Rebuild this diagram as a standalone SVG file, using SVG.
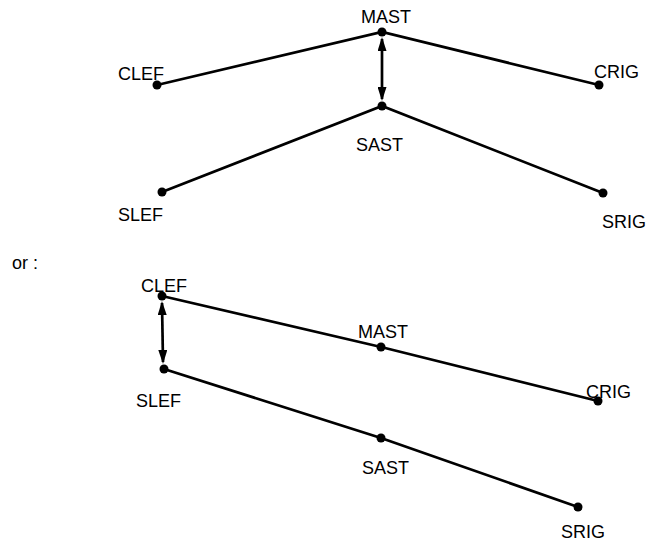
<svg xmlns="http://www.w3.org/2000/svg" width="651" height="545" viewBox="0 0 651 545">
  <style>
    text { font-family: "Liberation Sans", Arial, sans-serif; font-size: 18px; fill: #000; }
    .ln { stroke: #000; stroke-width: 2.7; fill: none; }
    .dot { fill: #000; }
  </style>
  <defs>
    <marker id="ah" viewBox="0 0 14 9" refX="12" refY="4.5" markerWidth="14" markerHeight="9" markerUnits="userSpaceOnUse" orient="auto-start-reverse">
      <path d="M0,0 L14,4.5 L0,9 Z" fill="#000"/>
    </marker>
  </defs>
  <rect width="651" height="545" fill="#fff"/>

  <g id="connectors">
    <polyline class="ln" points="157,85 382,32 599,85"/>
    <polyline class="ln" points="162,192 382,106 603,193"/>
    <line class="ln" x1="382" y1="39" x2="382" y2="99" marker-start="url(#ah)" marker-end="url(#ah)"/>
    <polyline class="ln" points="162,296 381,347 598,401"/>
    <polyline class="ln" points="164,369 381,438 578,507"/>
    <line class="ln" x1="162" y1="303" x2="163" y2="362" marker-start="url(#ah)" marker-end="url(#ah)"/>
  </g>

  <g id="top-mast"><circle class="dot" cx="382" cy="32" r="4.5"/><text x="361" y="23">MAST</text></g>
  <g id="top-clef"><circle class="dot" cx="157" cy="85" r="4.5"/><text x="118" y="80">CLEF</text></g>
  <g id="top-crig"><circle class="dot" cx="599" cy="85" r="4.5"/><text x="594" y="78">CRIG</text></g>
  <g id="top-sast"><circle class="dot" cx="382" cy="106" r="4.5"/><text x="356" y="151">SAST</text></g>
  <g id="top-slef"><circle class="dot" cx="162" cy="192" r="4.5"/><text x="118" y="221">SLEF</text></g>
  <g id="top-srig"><circle class="dot" cx="603" cy="193" r="4.5"/><text x="602" y="228">SRIG</text></g>

  <text id="or-label" x="12" y="269">or :</text>

  <g id="bot-clef"><circle class="dot" cx="162" cy="296" r="4.5"/><text x="141" y="292">CLEF</text></g>
  <g id="bot-mast"><circle class="dot" cx="381" cy="347" r="4.5"/><text x="358" y="338">MAST</text></g>
  <g id="bot-crig"><circle class="dot" cx="598" cy="401" r="4.5"/><text x="586" y="398">CRIG</text></g>
  <g id="bot-slef"><circle class="dot" cx="164" cy="369" r="4.5"/><text x="136" y="407">SLEF</text></g>
  <g id="bot-sast"><circle class="dot" cx="381" cy="438" r="4.5"/><text x="362" y="474">SAST</text></g>
  <g id="bot-srig"><circle class="dot" cx="578" cy="507" r="4.5"/><text x="561" y="538">SRIG</text></g>
</svg>
